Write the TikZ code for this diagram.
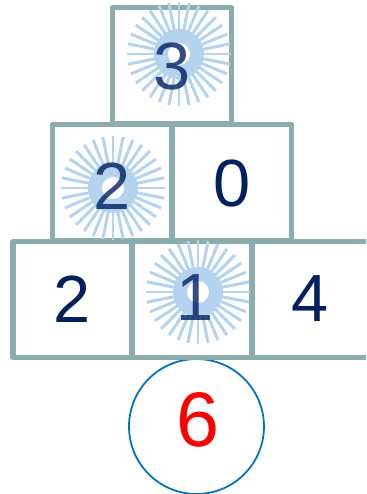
\documentclass[tikz,border=0pt]{standalone}
\usepackage{fontspec}
\setmainfont{Liberation Sans}
\usepackage{xcolor}
\definecolor{boxedge}{HTML}{8CADAE}
\definecolor{digitblue}{HTML}{002060}
\definecolor{ringblue}{HTML}{0070C0}
\definecolor{sunblue}{HTML}{B4D3EE}
\tikzset{
	cell/.style={draw=boxedge,line width=3.1pt,line join=round,minimum width=2.38cm,minimum height=2.32cm,inner sep=0pt},
	digit/.style={text=digitblue,font=\fontsize{38}{38}\selectfont,inner sep=0pt},
	sundigit/.style={digit,text opacity=0.8},
	target/.style={draw=ringblue,line width=1pt,circle,minimum size=2.7cm,inner sep=0pt},
	targetdigit/.style={text=red,font=\fontsize{44}{44}\selectfont,inner sep=0pt},
}
\newcommand{\sunburst}[2]{%
	\begin{scope}[shift={(#1,#2)}]
		\draw[sunblue,line width=0.28cm] (0,0) circle (0.36cm);
		\foreach \a in {0,11.25,...,349} {
			\draw[sunblue,line width=1.7pt] (\a:0.4cm) -- (\a:1.04cm);
		}
	\end{scope}
}
\begin{document}
\begin{tikzpicture}[x=0.02cm,y=-0.02cm]
	\useasboundingbox (0,0) rectangle (366,494);
	\clip (0,0) rectangle (366,494);
	% target
	\node[target] (T) at (196.5,426.5) {};
	\node[targetdigit] (t6) at (198,420) {6};
	% boxes
	\node[cell] (A) at (172,65.5) {};
	\node[cell] (B) at (112,182.5) {};
	\node[cell] (C) at (232,182.5) {};
	\node[cell] (D) at (72.5,299.5) {};
	\node[cell] (E) at (192,299.5) {};
	\node[cell] (F) at (311.5,299.5) {};
	% bursts
	\sunburst{179}{54}
	\sunburst{113}{188}
	\sunburst{198}{292}
	%
	\node[sundigit] (a3) at (172,67) {3};
	\node[sundigit] (b2) at (112,186) {2};
	\node[digit] (c0) at (232,184) {0};
	\node[digit] (d2) at (72,299) {2};
	\node[sundigit] (e1) at (195,298) {1};
	\node[digit] (f4) at (310,299) {4};
\end{tikzpicture}
\end{document}
